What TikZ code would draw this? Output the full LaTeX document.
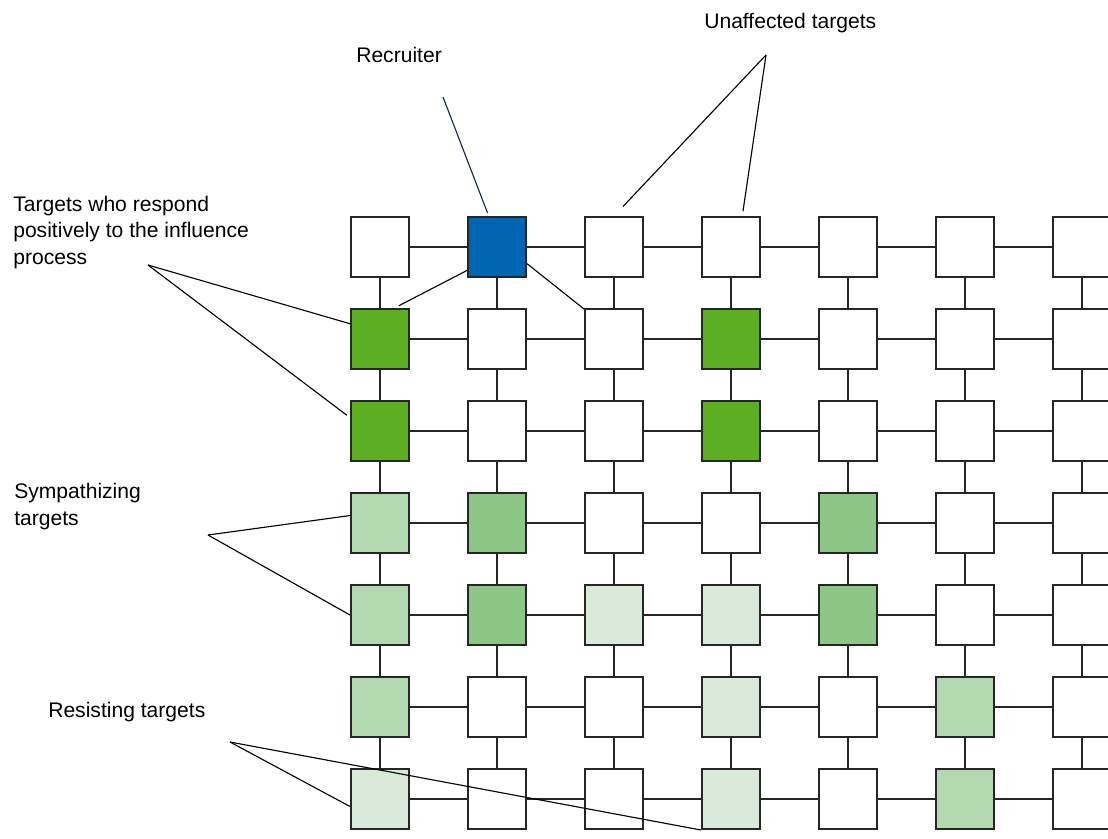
\documentclass[tikz,border=0pt]{standalone}
\usepackage{fontspec}
\setmainfont{Liberation Sans}
\usetikzlibrary{positioning}

\definecolor{unaff}{RGB}{255,255,255}
\definecolor{recr}{RGB}{0,102,179}
\definecolor{resp}{RGB}{93,175,34}
\definecolor{strong}{RGB}{140,199,136}
\definecolor{symp}{RGB}{179,217,176}
\definecolor{resist}{RGB}{217,235,216}
\definecolor{recline}{RGB}{20,40,80}

\begin{document}
\begin{tikzpicture}
		[x=0.025cm, y=-0.025cm,
		 target/.style={rectangle, draw=black!85, line width=1.4pt, minimum width=1.45cm, minimum height=1.5cm, inner sep=0pt},
		 link/.style={draw=black!85, line width=1.4pt},
		 callout/.style={draw=black, line width=0.8pt},
		 note/.style={inner sep=0pt, font=\fontsize{15}{18.8}\selectfont}]
		\useasboundingbox (0,0) rectangle (1108,838);
		\clip (0,0) rectangle (1108,838);
		\fill[white] (0,0) rectangle (1108,838);

		% the grid of targets, row by row
		\foreach \fills [count=\r] in {
				{unaff,recr,unaff,unaff,unaff,unaff,unaff},
				{resp,unaff,unaff,resp,unaff,unaff,unaff},
				{resp,unaff,unaff,resp,unaff,unaff,unaff},
				{symp,strong,unaff,unaff,strong,unaff,unaff},
				{symp,strong,resist,resist,strong,unaff,unaff},
				{symp,unaff,unaff,resist,unaff,symp,unaff},
				{resist,unaff,unaff,resist,unaff,symp,unaff}}
			\foreach \f [count=\c] in \fills
				\node[target, fill=\f] (n-\r-\c) at ({380+(\c-1)*117}, {247+(\r-1)*92}) {};

		\foreach \r in {1,...,7}
			\foreach \c [count=\nxt from 2] in {1,...,6}
				\draw[link] (n-\r-\c) -- (n-\r-\nxt);
		\foreach \c in {1,...,7}
			\foreach \r [count=\nxt from 2] in {1,...,6}
				\draw[link] (n-\r-\c) -- (n-\nxt-\c);

		% labels
		\node[note, anchor=base west] (recruiter) at (356,62) {Recruiter};
		\node[note, anchor=base west] (unaffected) at (704,28) {Unaffected targets};
		\node[note, anchor=base west, align=left] (responders) at (13,264) {Targets who respond\\positively to the influence\\process};
		\node[note, anchor=base west, align=left] (sympathizers) at (14,525) {Sympathizing\\targets};
		\node[note, anchor=base west] (resisters) at (48,717) {Resisting targets};

		\coordinate (rec-tip) at (443,97);
		\coordinate (unaff-tip) at (766,55);
		\coordinate (resp-tip) at (148,265);
		\coordinate (symp-tip) at (208,535);
		\coordinate (resist-tip) at (230,742);

		% callouts
		\draw[callout, draw=recline, shorten >=0.08cm] (rec-tip) -- (n-1-2.105);
		\draw[callout, shorten >=0.33cm] (unaff-tip) -- (n-1-3.north);
		\draw[callout, shorten >=0.12cm] (unaff-tip) -- (n-1-4.70);
		\draw[callout, shorten >=0.12cm] (n-1-2.218) -- (n-2-1.65);
		\draw[callout] (n-1-2.-29) -- (n-2-3.135);
		\draw[callout] (resp-tip) -- (n-2-1.153);
		\draw[callout, shorten >=0.1cm] (resp-tip) -- (n-3-1.156);
		\draw[callout] (symp-tip) -- (n-4-1.166);
		\draw[callout] (symp-tip) -- (n-5-1.west);
		\draw[callout] (resist-tip) -- (n-7-1.194);
		\draw[callout] (resist-tip) -- (n-7-4.south west);
	\end{tikzpicture}
\end{document}
